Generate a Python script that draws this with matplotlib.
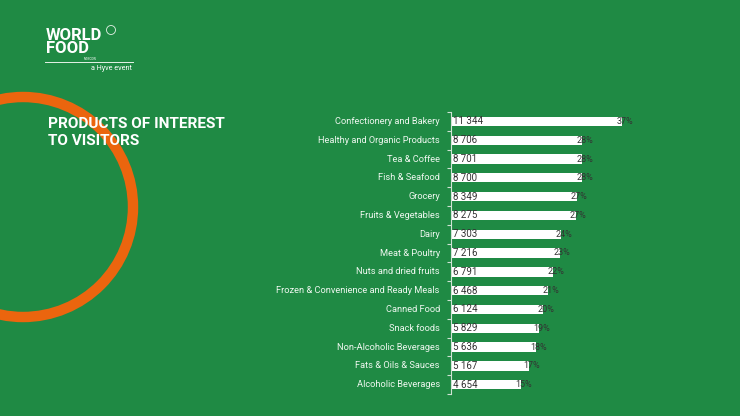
import matplotlib
matplotlib.use("Agg")
import matplotlib.pyplot as plt
from matplotlib.patches import Circle
from matplotlib.lines import Line2D

categories = ["Confectionery and Bakery", "Healthy and Organic Products", "Tea & Coffee",
              "Fish & Seafood", "Grocery", "Fruits & Vegetables", "Dairy", "Meat & Poultry",
              "Nuts and dried fruits", "Frozen & Convenience and Ready Meals", "Canned Food",
              "Snack foods", "Non-Alcoholic Beverages", "Fats & Oils & Sauces", "Alcoholic Beverages"]
values = [11344, 8706, 8701, 8700, 8349, 8275, 7303, 7216, 6791, 6468, 6124, 5829, 5636, 5167, 4654]
percents = [37, 28, 28, 28, 27, 27, 24, 23, 22, 21, 20, 19, 18, 17, 15]
value_labels = ["11 344", "8 706", "8 701", "8 700", "8 349", "8 275", "7 303", "7 216",
                "6 791", "6 468", "6 124", "5 829", "5 636", "5 167", "4 654"]

plt.rcParams['font.family'] = ['Roboto', 'DejaVu Sans']

W, H = 740, 416
BG = '#1f8a44'
fig = plt.figure(figsize=(W / 100, H / 100), dpi=100, facecolor=BG)

# background decorations
bg = fig.add_axes([0, 0, 1, 1])
bg.set_xlim(0, W)
bg.set_ylim(H, 0)
bg.axis('off')
bg.set_facecolor(BG)
bg.add_patch(Circle((23, 207), 110, fill=False, edgecolor='#eb650e', lw=7.5))

# title
bg.text(48, 132.5, "PRODUCTS OF INTEREST\nTO VISITORS", color='white', fontsize=11.1,
        fontweight='bold', va='center', ha='left', linespacing=1.25)

# logo
bg.text(46, 42, "WORLD\nFOOD", color='white', fontsize=12, fontweight='bold',
        va='center', ha='left', linespacing=0.85)
bg.text(97, 59, "MOSCOW", color='white', fontsize=2.2, va='center', ha='right')
bg.add_patch(Circle((111, 30), 4.5, fill=False, edgecolor='#e6f2e8', lw=0.6))
bg.add_line(Line2D([45, 133], [61.5, 61.5], color='#e6f2e8', lw=0.7))
bg.text(132, 68.5, "a Hyve event", color='white', fontsize=5.2, va='center', ha='right')

# chart axes
left_px, right_px = 451, 700
top_px, bot_px = 112, 394
ax = fig.add_axes([left_px / W, 1 - bot_px / H, (right_px - left_px) / W, (bot_px - top_px) / H])
ax.patch.set_alpha(0)
n = len(categories)
xmax = values[0] * (right_px - left_px) / 171.0
ax.set_xlim(0, xmax)
ax.set_ylim(n - 0.5, -0.5)
ypos = list(range(n))
ax.barh(ypos, values, height=0.5, color='white', edgecolor='none')

for spine in ['top', 'right', 'bottom']:
    ax.spines[spine].set_visible(False)
ax.spines['left'].set_color('#cfe3d4')
ax.spines['left'].set_linewidth(0.8)
ax.set_xticks([])
ax.set_yticks([i - 0.5 for i in range(n + 1)])
ax.set_yticklabels([])
ax.tick_params(axis='y', length=3, color='#cfe3d4', width=0.8)
for i, c in enumerate(categories):
    ax.text(-0.045 * xmax, i, c, color='#eef7ef', fontsize=6.7, ha='right', va='center')
    ax.text(0.01 * xmax, i, value_labels[i], color='#333333', fontsize=7, ha='left', va='center')
    ax.text(values[i] + 0.01 * xmax, i, f"{percents[i]}%", color='#333333', fontsize=6.5,
            ha='center', va='center', clip_on=False)

fig.savefig("out.png", dpi=100, facecolor=BG)
